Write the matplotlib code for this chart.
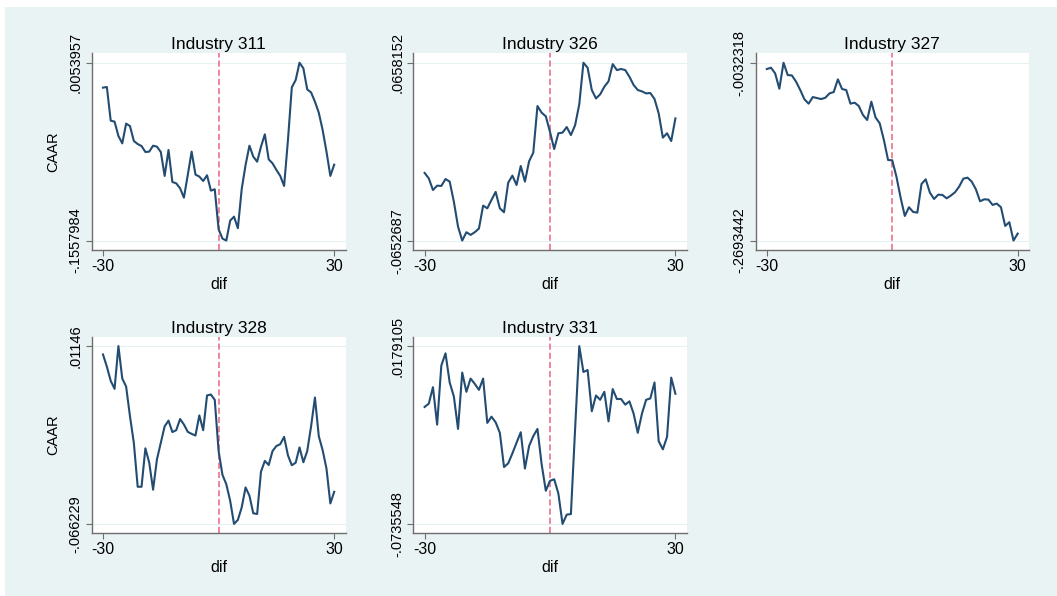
import numpy as np
import matplotlib
matplotlib.use("Agg")
import matplotlib.pyplot as plt
from matplotlib.patches import Rectangle

plt.rcParams['font.family'] = ['Liberation Sans', 'DejaVu Sans']

# event window
dif = np.arange(-30, 31)

caar_311 = [-0.0172, -0.0166, -0.0471, -0.0480, -0.0610, -0.0677, -0.0498, -0.0520,
            -0.0655, -0.0683, -0.0701, -0.0755, -0.0752, -0.0698, -0.0707, -0.0755,
            -0.0972, -0.0737, -0.1027, -0.1039, -0.1084, -0.1169, -0.0963, -0.0752,
            -0.0960, -0.0978, -0.1018, -0.0966, -0.1105, -0.1093, -0.1455, -0.1540,
            -0.1557984, -0.1377, -0.1341, -0.1446, -0.1090, -0.0873, -0.0698, -0.0797,
            -0.0843, -0.0707, -0.0595, -0.0822, -0.0858, -0.0918, -0.0972, -0.1063,
            -0.0646, -0.0169, -0.0103, 0.0053957, 0.0003, -0.0188, -0.0215, -0.0299,
            -0.0399, -0.0556, -0.0752, -0.0972, -0.0870]

caar_326 = [-0.0154, -0.0194, -0.0280, -0.0248, -0.0250, -0.0199, -0.0218, -0.0366,
            -0.0550, -0.0652687, -0.0591, -0.0611, -0.0591, -0.0564, -0.0395, -0.0415,
            -0.0353, -0.0294, -0.0415, -0.0444, -0.0226, -0.0174, -0.0243, -0.0103,
            -0.0218, -0.0068, -0.0005, 0.0339, 0.0290, 0.0263, 0.0148, 0.0022,
            0.0138, 0.0143, 0.0184, 0.0125, 0.0197, 0.0351, 0.0658152, 0.0621,
            0.0457, 0.0395, 0.0425, 0.0481, 0.0521, 0.0648, 0.0604, 0.0612,
            0.0604, 0.0555, 0.0494, 0.0457, 0.0447, 0.0432, 0.0435, 0.0391,
            0.0285, 0.0106, 0.0138, 0.0081, 0.0248]

caar_327 = [-0.0127, -0.0107, -0.0192, -0.0421, -0.0032318, -0.0217, -0.0222, -0.0316,
            -0.0441, -0.0580, -0.0645, -0.0546, -0.0561, -0.0576, -0.0556, -0.0491,
            -0.0471, -0.0281, -0.0426, -0.0441, -0.0645, -0.0630, -0.0680, -0.0815,
            -0.0889, -0.0615, -0.0850, -0.0939, -0.1188, -0.1488, -0.1492, -0.1737,
            -0.2051, -0.2325, -0.2195, -0.2265, -0.2275, -0.1846, -0.1777, -0.1976,
            -0.2071, -0.2006, -0.2011, -0.2061, -0.2021, -0.1971, -0.1886, -0.1767,
            -0.1752, -0.1811, -0.1926, -0.2105, -0.2076, -0.2081, -0.2160, -0.2140,
            -0.2195, -0.2474, -0.2419, -0.2693442, -0.2589]

caar_328 = [0.0078, 0.0025, -0.0037, -0.0072, 0.01146, -0.0027, -0.0062, -0.0192,
            -0.0308, -0.0500, -0.0500, -0.0332, -0.0395, -0.0513, -0.0380, -0.0308,
            -0.0236, -0.0211, -0.0261, -0.0253, -0.0204, -0.0228, -0.0260, -0.0269,
            -0.0276, -0.0188, -0.0253, -0.0101, -0.0097, -0.0120, -0.0344, -0.0448,
            -0.0489, -0.0561, -0.066229, -0.0645, -0.0590, -0.0503, -0.0539, -0.0616,
            -0.0619, -0.0434, -0.0387, -0.0405, -0.0344, -0.0322, -0.0314, -0.0282,
            -0.0363, -0.0406, -0.0395, -0.0328, -0.0393, -0.0344, -0.0236, -0.0110,
            -0.0279, -0.0340, -0.0421, -0.0573, -0.0522]

caar_331 = [-0.0134, -0.0117, -0.0032, -0.0225, 0.0079, 0.0142, -0.0008, -0.0080,
            -0.0247, 0.0043, -0.0056, 0.0012, -0.0015, -0.0046, 0.0012, -0.0216,
            -0.0184, -0.0213, -0.0267, -0.0443, -0.0424, -0.0373, -0.0318, -0.0264,
            -0.0451, -0.0335, -0.0284, -0.0247, -0.0429, -0.0565, -0.0514, -0.0506,
            -0.0579, -0.0735548, -0.0688, -0.0685, -0.0250, 0.0179105, 0.0046, 0.0056,
            -0.0156, -0.0075, -0.0097, -0.0056, -0.0208, -0.0042, -0.0093, -0.0093,
            -0.0122, -0.0105, -0.0168, -0.0267, -0.0168, -0.0097, -0.0090, -0.0008,
            -0.0310, -0.0352, -0.0288, 0.0017, -0.0066]

industries = ['311', '326', '327', '328', '331']
series = [caar_311, caar_326, caar_327, caar_328, caar_331]

W, H = 1057, 596
# panel boxes in pixels: left, top, right, bottom
boxes = [(91.7, 53.3, 345.5, 250.0),
         (413.3, 53.3, 686.7, 250.0),
         (755.5, 53.3, 1029.0, 250.0),
         (91.7, 336.7, 345.5, 533.3),
         (413.3, 336.7, 686.7, 533.3)]
show_ylabel = [True, False, False, True, False]

bg = '#eaf3f4'
navy = '#234c72'
spine_col = '#6e6e6e'

fig = plt.figure(figsize=(W / 100, H / 100), dpi=100, facecolor='white')
fig.patches.append(Rectangle((5 / W, 0), 1, 1 - 7 / H, transform=fig.transFigure,
                             facecolor=bg, edgecolor='none', zorder=-10))


def stata_fmt(v):
    s = f"{v:.7g}"
    return s.replace('0.', '.', 1) if s.startswith(('0.', '-0.')) else s


for ind, y, box, ylab in zip(industries, series, boxes, show_ylabel):
    l, t, r, b = box
    ax = fig.add_axes([l / W, 1 - b / H, (r - l) / W, (b - t) / H])
    ax.set_facecolor('white')
    y = np.array(y)
    ymin, ymax = y.min(), y.max()
    pad = (ymax - ymin) * 0.053
    ax.set_ylim(ymin - pad, ymax + pad)
    # keep roughly 11 px between the plot edge and the first/last day
    xpad = 11.3 / ((r - l) - 22.6) * 60
    ax.set_xlim(-30 - xpad, 30 + xpad)

    ax.plot(dif, y, color=navy, lw=1.5, zorder=3)
    ax.axvline(0, color='#ec6480', lw=1.1, ls=(0, (4, 2)), zorder=2)

    ax.set_yticks([ymin, ymax])
    ax.set_yticklabels([stata_fmt(ymin), stata_fmt(ymax)], rotation=90,
                       va='center', fontsize=10.5)
    ax.set_xticks([-30, 30])
    ax.set_xticklabels(['-30', '30'], fontsize=11.5)
    ax.grid(axis='y', color='#e8f1f2', lw=0.8, zorder=1)
    ax.tick_params(axis='both', direction='out', length=4.5, width=0.8,
                   color=spine_col, pad=2)

    for side in ('top', 'right'):
        ax.spines[side].set_visible(False)
    for side in ('left', 'bottom'):
        ax.spines[side].set_color(spine_col)
        ax.spines[side].set_linewidth(1.0)

    ax.set_title('Industry ' + ind, fontsize=12.5, pad=3)
    ax.set_xlabel('dif', fontsize=11.5, labelpad=2)
    if ylab:
        ax.set_ylabel('CAAR', fontsize=10.5, labelpad=6)

fig.savefig('out.png', dpi=100, facecolor=fig.get_facecolor())
